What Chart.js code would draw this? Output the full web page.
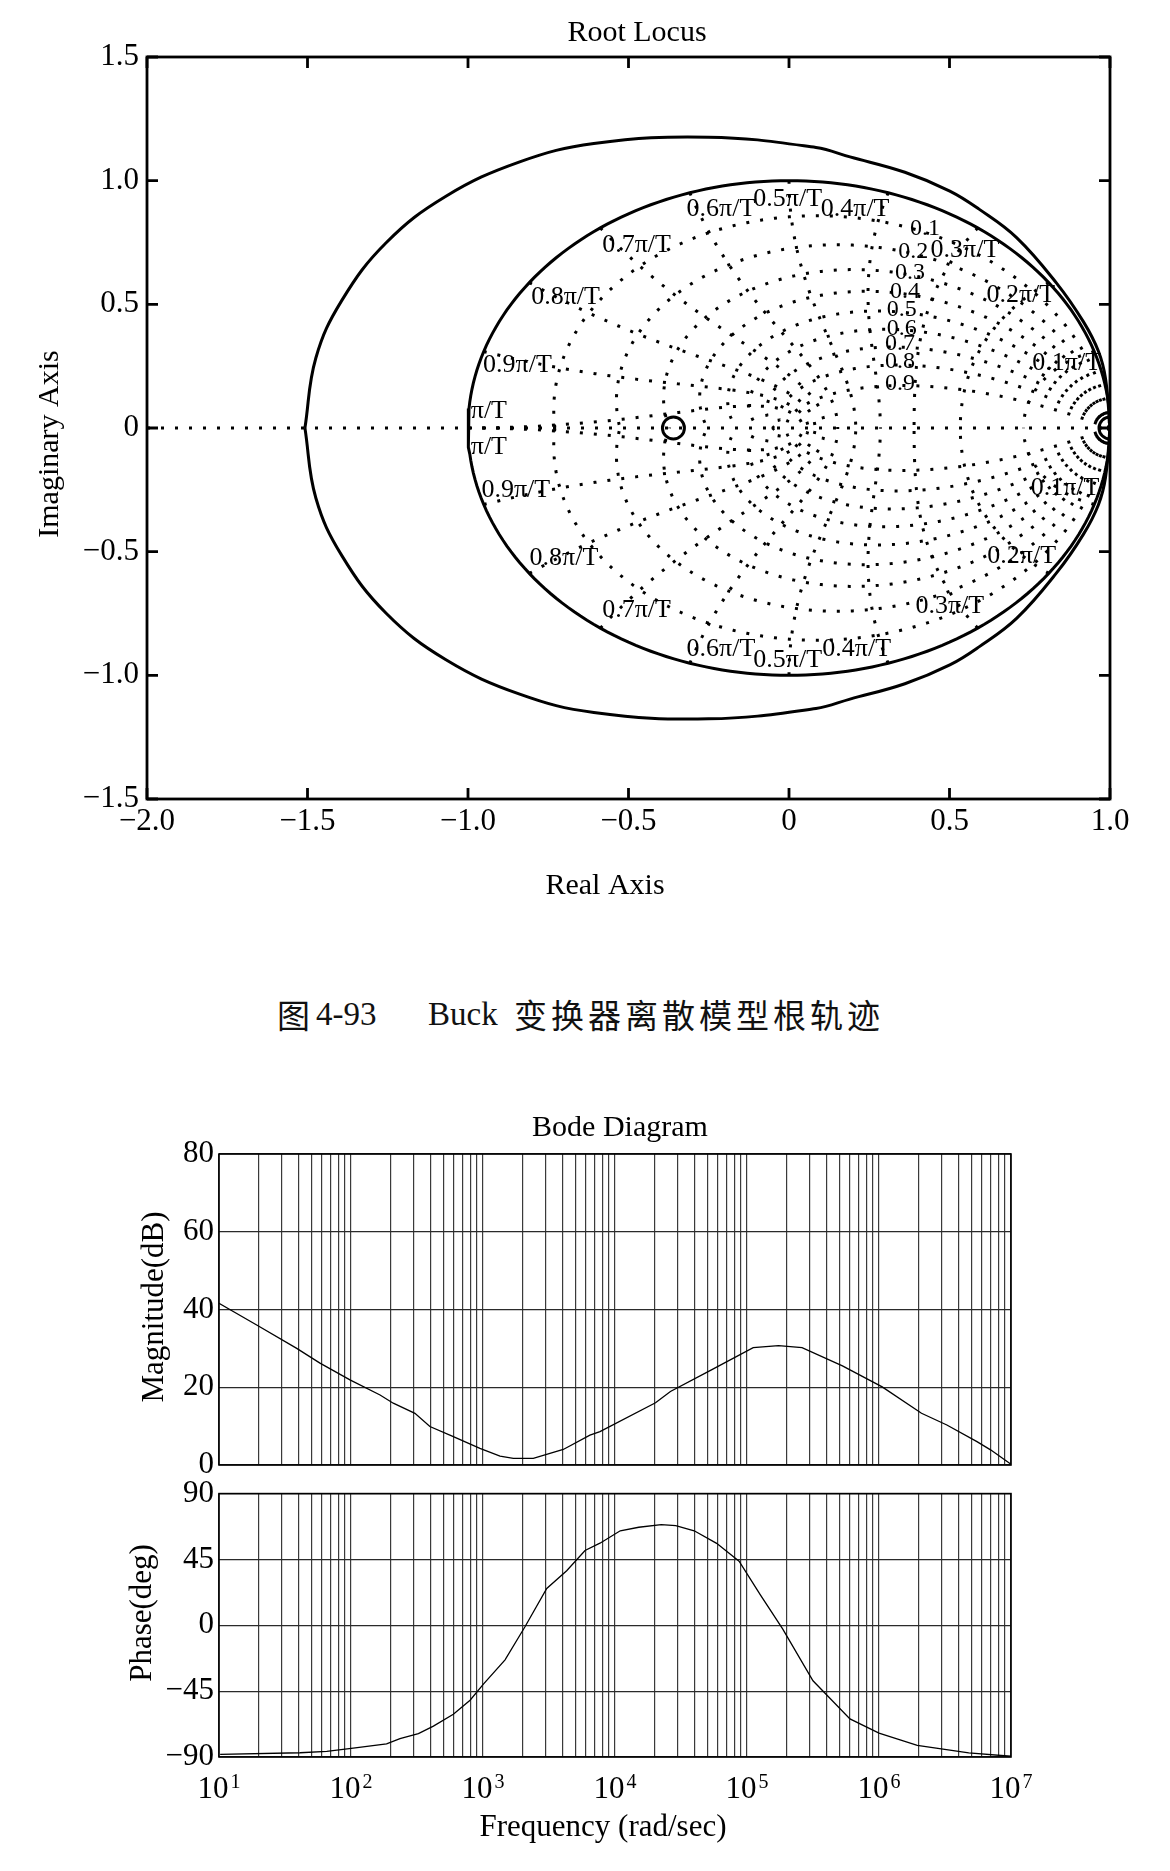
<!DOCTYPE html>
<html><head><meta charset="utf-8">
<script src="https://cdn.jsdelivr.net/npm/chart.js@4.4.1/dist/chart.umd.min.js"></script>
<style>
html,body{margin:0;padding:0;background:#fff;}
body{width:1170px;height:1871px;position:relative;overflow:hidden;}
canvas{position:absolute;left:0;}
#rl{top:0;} #mag{top:1090px;} #ph{top:1470px;}
.cap{position:absolute;top:994px;line-height:40px;font-size:33px;color:#111;white-space:pre;}
.lat{font-family:"Liberation Serif",serif;}
.cjk{font-family:"Noto Sans CJK SC",sans-serif;letter-spacing:4px;}
</style></head><body>
<canvas id="rl" width="1170" height="960"></canvas>
<span class="cap cjk" style="left:277px">图</span>
<span class="cap lat" style="left:316px">4-93</span>
<span class="cap lat" style="left:428px">Buck</span>
<span class="cap cjk" style="left:514px">变换器离散模型根轨迹</span>
<canvas id="mag" width="1170" height="400"></canvas>
<canvas id="ph" width="1170" height="401"></canvas>
<script>
// ---------------- data ----------------
const rlXTicks = [-2, -1.5, -1, -0.5, 0, 0.5, 1];
const rlYTicks = [-1.5, -1, -0.5, 0, 0.5, 1, 1.5];
const zetaValues = [0.1, 0.2, 0.3, 0.4, 0.5, 0.6, 0.7, 0.8, 0.9];
const zetaLabels = ['0.1','0.2','0.3','0.4','0.5','0.6','0.7','0.8','0.9'];
const wnValues = [0.1, 0.2, 0.3, 0.4, 0.5, 0.6, 0.7, 0.8, 0.9, 1.0]; // x pi/T
const wnLabels = ['0.1π/T','0.2π/T','0.3π/T','0.4π/T','0.5π/T','0.6π/T','0.7π/T','0.8π/T','0.9π/T','π/T'];
// root locus branch (outer curve)
const locusUpperX = [1.0, 0.986, 0.964, 0.917, 0.834, 0.709, 0.592, 0.501, 0.361, 0.19, 0.084, -0.251, -0.608, -0.839, -1.07, -1.255, -1.393, -1.474, -1.508];
const locusUpperY = [0.0, 0.2, 0.31, 0.43, 0.585, 0.77, 0.885, 0.958, 1.034, 1.096, 1.134, 1.176, 1.15, 1.076, 0.936, 0.749, 0.516, 0.283, 0.0];
const locusLowerX = [-1.508, -1.474, -1.393, -1.255, -1.07, -0.839, -0.608, -0.251, 0.084, 0.19, 0.361, 0.501, 0.592, 0.709, 0.834, 0.917, 0.964, 0.986, 1.0];
const locusLowerY = [0.0, -0.283, -0.516, -0.749, -0.936, -1.076, -1.15, -1.176, -1.134, -1.096, -1.034, -0.958, -0.885, -0.77, -0.585, -0.43, -0.31, -0.2, 0.0];
const zeroX = [-0.36, 1.0];
const zeroY = [0, 0];
// Bode
const magFreq = [10, 19.3, 38.8, 58.2, 98.2, 166, 209, 305, 396, 596, 948, 1346, 1698, 2404, 4055, 6457, 7691, 20280, 26300, 53330, 111400, 173400, 261200, 528400, 1057000, 2099000, 3266000, 5521000, 7000000, 10000000];
const magDb   = [41.6, 36.0, 30.0, 26.2, 21.9, 18.0, 15.9, 13.3, 9.9, 7.3, 4.3, 2.3, 1.7, 1.7, 4.0, 7.7, 8.6, 16.0, 18.9, 24.4, 30.2, 30.7, 30.2, 25.5, 20.1, 13.3, 10.3, 6.0, 3.9, 0.2];
const phFreq = [10.2, 41.1, 65.5, 104, 186, 235, 324, 421, 596, 798, 1007, 1469, 2080, 3041, 4305, 5929, 7691, 10960, 15140, 22390, 28840, 39810, 58880, 87100, 125900, 186200, 316200, 602600, 1000000, 1950000, 4786000, 10000000];
const phDeg  = [-88.2, -87.1, -86.2, -84.0, -81.1, -77.4, -74.0, -68.9, -60.8, -51.2, -40.2, -23.6, -1.0, 25.2, 37.3, 51.1, 56.1, 64.6, 67.0, 68.8, 68.1, 64.6, 56.0, 43.8, 21.0, -2.4, -37.9, -64.0, -73.7, -82.0, -87.2, -89.5];
const magTicks = [0, 20, 40, 60, 80];
const phTicks = [-90, -45, 0, 45, 90];
const decadeExps = [1, 2, 3, 4, 5, 6, 7];

// ---------------- layout (not data) ----------------
const SERIF = '"Liberation Serif", "Times New Roman", serif';
const wnLabelPos = [
  [0.865, 0.261],[0.722, 0.537],[0.548, 0.719],[0.206, 0.884],[-0.004, 0.926],[-0.212, 0.884],[-0.475, 0.738],[-0.696, 0.528],[-0.846, 0.253],[-0.935, 0.069]
];
const wnLabelPosLow = [
  [0.86, -0.244],[0.725, -0.52],[0.501, -0.722],[0.211, -0.894],[-0.004, -0.94],[-0.212, -0.894],[-0.475, -0.735],[-0.701, -0.528],[-0.851, -0.253],[-0.935, -0.078]
];
const zetaLabelPos = [[0.424,0.804],[0.387,0.712],[0.377,0.627],[0.361,0.551],[0.351,0.477],[0.351,0.403],[0.346,0.342],[0.346,0.268],[0.346,0.18]];

// zgrid curves built from the grid label values (grid decoration)
function dampingCurve(z){
  const pts=[]; const wd=Math.sqrt(1-z*z); const N=120;
  for(let i=0;i<=N;i++){const w=Math.PI/wd*i/N; const r=Math.exp(-z*w); pts.push({x:r*Math.cos(w*wd),y:r*Math.sin(w*wd)});}
  pts.push({x:NaN,y:NaN});
  for(let i=0;i<=N;i++){const w=Math.PI/wd*i/N; const r=Math.exp(-z*w); pts.push({x:r*Math.cos(w*wd),y:-r*Math.sin(w*wd)});}
  return pts;
}
function freqCurve(k){
  const w=k*Math.PI; const pts=[]; const N=60;
  for(let i=0;i<=N;i++){const z=Math.sin(Math.PI/2*i/N); const r=Math.exp(-z*w); const th=w*Math.sqrt(Math.max(0,1-z*z)); pts.push({x:r*Math.cos(th),y:r*Math.sin(th)});}
  pts.push({x:NaN,y:NaN});
  for(let i=0;i<=N;i++){const z=Math.sin(Math.PI/2*i/N); const r=Math.exp(-z*w); const th=w*Math.sqrt(Math.max(0,1-z*z)); pts.push({x:r*Math.cos(th),y:-r*Math.sin(th)});}
  return pts;
}
function unitCircle(){const pts=[]; for(let i=0;i<=240;i++){const t=2*Math.PI*i/240; pts.push({x:Math.cos(t),y:Math.sin(t)});} return pts;}
const zip=(xs,ys)=>xs.map((v,i)=>({x:v,y:ys[i]}));

const dotted = {showLine:true, pointRadius:0, borderColor:'#000', borderWidth:3, borderDash:[3,11], borderCapStyle:'butt', fill:false, order:10};
const datasets=[];
zetaValues.forEach(z=>datasets.push(Object.assign({data:dampingCurve(z)},dotted)));
wnValues.forEach(k=>datasets.push(Object.assign({data:freqCurve(k)},dotted)));
datasets.push(Object.assign({data:[{x:-2,y:0},{x:1,y:0}]},dotted,{borderDash:[3,11]}));
datasets.push({data:unitCircle(), showLine:true, pointRadius:0, borderColor:'#000', borderWidth:3, order:5});
datasets.push({data:zip(locusUpperX,locusUpperY), showLine:true, pointRadius:0, borderColor:'#000', borderWidth:3, tension:0.4, order:4});
datasets.push({data:zip(locusLowerX,locusLowerY), showLine:true, pointRadius:0, borderColor:'#000', borderWidth:3, tension:0.4, order:4});
datasets.push({data:zip(zeroX,zeroY), showLine:false, pointStyle:'circle', pointRadius:11, pointBorderWidth:3, pointBorderColor:'#000', pointBackgroundColor:'rgba(0,0,0,0)', order:1});

const fmtTick = v => v===0 ? '0' : (v<0?'−':'') + Math.abs(v).toFixed(1);

const textPlugin = {
  id:'texts',
  afterDraw(chart, args, opts){
    const ctx=chart.ctx; ctx.save(); ctx.fillStyle='#000';
    (opts.items||[]).forEach(it=>{
      ctx.font = it.font; ctx.textAlign = it.align||'center'; ctx.textBaseline='middle';
      let x=it.x, y=it.y;
      if(it.data){ x=chart.scales.x.getPixelForValue(it.x); y=chart.scales.y.getPixelForValue(it.y); }
      if(it.rot){ ctx.save(); ctx.translate(x,y); ctx.rotate(-Math.PI/2); ctx.fillText(it.text,0,0); ctx.restore(); }
      else ctx.fillText(it.text,x,y);
    });
    ctx.restore();
  }
};
const framePlugin = {
  id:'frame',
  afterDraw(chart, args, opts){
    const {ctx, chartArea:a} = chart; ctx.save();
    ctx.strokeStyle='#000'; ctx.lineWidth=opts.width||2; ctx.strokeRect(a.left,a.top,a.right-a.left,a.bottom-a.top);
    if(opts.ticks){
      const L=opts.tickLen; ctx.lineWidth=opts.width; ctx.beginPath();
      rlXTicks.forEach(v=>{const p=chart.scales.x.getPixelForValue(v); ctx.moveTo(p,a.bottom); ctx.lineTo(p,a.bottom-L); ctx.moveTo(p,a.top); ctx.lineTo(p,a.top+L);});
      rlYTicks.forEach(v=>{const p=chart.scales.y.getPixelForValue(v); ctx.moveTo(a.left,p); ctx.lineTo(a.left+L,p); ctx.moveTo(a.right,p); ctx.lineTo(a.right-L,p);});
      ctx.stroke();
    }
    ctx.restore();
  }
};

const rlItems = [];
wnLabels.forEach((t,i)=>{rlItems.push({text:t,x:wnLabelPos[i][0],y:wnLabelPos[i][1],data:true,font:'26px '+SERIF}); rlItems.push({text:t,x:wnLabelPosLow[i][0],y:wnLabelPosLow[i][1],data:true,font:'26px '+SERIF});});
zetaLabels.forEach((t,i)=>rlItems.push({text:t,x:zetaLabelPos[i][0],y:zetaLabelPos[i][1],data:true,font:'24px '+SERIF}));
rlItems.push({text:'Root Locus',x:637,y:33,font:'30px '+SERIF});
rlItems.push({text:'Real Axis',x:605,y:886,font:'30px '+SERIF});
rlItems.push({text:'Imaginary Axis',x:50,y:444,rot:true,font:'30px '+SERIF});

Chart.register(textPlugin, framePlugin);
Chart.defaults.font.family = SERIF;
Chart.defaults.color = '#000';

new Chart(document.getElementById('rl'), {
  type:'scatter',
  data:{datasets},
  options:{
    responsive:false, animation:false, devicePixelRatio:1,
    layout:{padding:{left:0,right:60,top:57,bottom:0}},
    plugins:{legend:{display:false}, tooltip:{enabled:false}, texts:{items:rlItems}, frame:{width:2.8,ticks:true,tickLen:11}},
    scales:{
      x:{type:'linear',min:-2,max:1,grid:{display:false},border:{display:false},
         afterBuildTicks:s=>{s.ticks=rlXTicks.map(v=>({value:v}));},
         afterFit:s=>{s.height=161;},
         ticks:{font:{size:31},padding:-4,maxRotation:0,autoSkip:false,callback:fmtTick}},
      y:{type:'linear',min:-1.5,max:1.5,grid:{display:false},border:{display:false},
         afterBuildTicks:s=>{s.ticks=rlYTicks.map(v=>({value:v}));},
         afterFit:s=>{s.width=147;},
         ticks:{font:{size:31},padding:0,autoSkip:false,callback:fmtTick}}
    }
  }
});

// ---------------- Bode ----------------
function logGridTicks(){
  const t=[];
  for(let i=0;i<decadeExps.length-1;i++){for(let m=1;m<10;m++) t.push({value:m*Math.pow(10,decadeExps[i])});}
  t.push({value:Math.pow(10,decadeExps[decadeExps.length-1])});
  return t;
}
const supPlugin = {
  id:'sup',
  afterDraw(chart, args, opts){
    if(!opts.on) return;
    const ctx=chart.ctx; const sx=chart.scales.x; ctx.save(); ctx.fillStyle='#000'; ctx.textBaseline='middle'; ctx.textAlign='left';
    decadeExps.forEach(e=>{
      const p=sx.getPixelForValue(Math.pow(10,e));
      ctx.font='31px '+SERIF; const w1=ctx.measureText('10').width;
      ctx.font='20px '+SERIF; const w2=ctx.measureText(String(e)).width;
      const s=p-(w1+w2+2)/2;
      ctx.font='31px '+SERIF; ctx.fillText('10',s,opts.y);
      ctx.font='20px '+SERIF; ctx.fillText(String(e),s+w1+2,opts.y-7);
    });
    ctx.restore();
  }
};
Chart.register(supPlugin);

function bodeOptions(yMin,yMax,yTicks,pad,items,sup){
  return {
    responsive:false, animation:false, devicePixelRatio:1,
    layout:{padding:pad},
    plugins:{legend:{display:false},tooltip:{enabled:false},texts:{items},frame:{width:1.6},sup},
    scales:{
      x:{type:'logarithmic',min:10,max:1e7,
         grid:{color:'#3a3a3a',lineWidth:1.2,drawTicks:false},border:{display:false},
         afterBuildTicks:s=>{s.ticks=logGridTicks();},
         afterFit:s=>{s.height=0;},
         ticks:{display:false,autoSkip:false}},
      y:{type:'linear',min:yMin,max:yMax,
         grid:{color:'#2a2a2a',lineWidth:1.2,drawTicks:false},border:{display:false},
         afterBuildTicks:s=>{s.ticks=yTicks.map(v=>({value:v}));},
         afterFit:s=>{s.width=219;},
         ticks:{font:{size:31},padding:5,autoSkip:false,callback:v=>v<0?'−'+Math.abs(v):String(v)}}
    }
  };
}
new Chart(document.getElementById('mag'), {
  type:'scatter',
  data:{datasets:[{data:zip(magFreq,magDb),showLine:true,pointRadius:0,borderColor:'#000',borderWidth:1.3,tension:0}]},
  options:bodeOptions(0,80,magTicks,{left:0,right:159,top:64,bottom:25},
    [{text:'Bode Diagram',x:620,y:38,font:'30px '+SERIF},{text:'Magnitude(dB)',x:155,y:217,rot:true,font:'31px '+SERIF}],{on:false})
});
new Chart(document.getElementById('ph'), {
  type:'scatter',
  data:{datasets:[{data:zip(phFreq,phDeg),showLine:true,pointRadius:0,borderColor:'#000',borderWidth:1.3,tension:0}]},
  options:bodeOptions(-90,90,phTicks,{left:0,right:159,top:16,bottom:114},
    [{text:'Phase(deg)',x:143,y:143,rot:true,font:'31px '+SERIF},{text:'Frequency (rad/sec)',x:603,y:358,font:'31px '+SERIF}],{on:true,y:320})
});
</script>
</body></html>
